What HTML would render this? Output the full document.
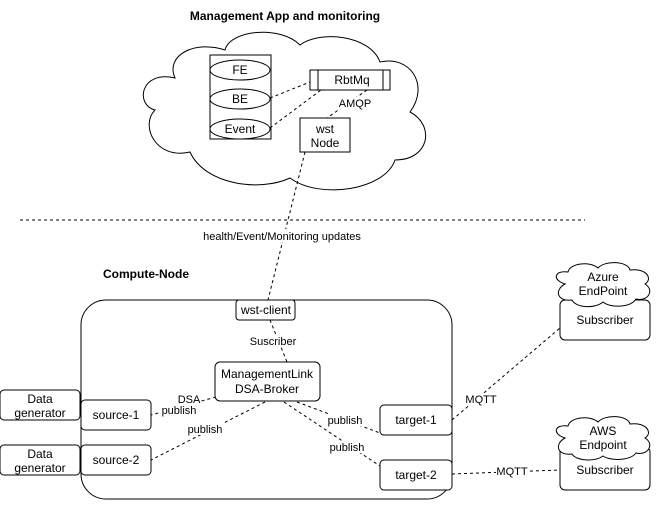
<!DOCTYPE html>
<html><head><meta charset="utf-8"><style>
html,body{margin:0;padding:0;background:#fff;}
svg text{font-family:"Liberation Sans",Arial,sans-serif;font-size:12px;fill:#000;}
</style></head><body>
<svg width="661" height="501" viewBox="0 0 661 501" xmlns="http://www.w3.org/2000/svg">
<g fill="none" stroke="#000" stroke-width="1">
<path d="M175,78 C140,70 135,105 155,110 C140,125 155,160 190,152 C205,185 260,192 290,178 C320,200 385,190 395,160 C430,160 435,125 410,112 C430,85 410,55 380,62 C370,35 320,30 300,45 C280,25 230,30 225,50 C195,40 165,55 175,78 Z" fill="#fff"/>
<rect x="210" y="55" width="61" height="84" fill="#fff"/>
<ellipse cx="240" cy="70" rx="30" ry="10" fill="#fff"/>
<ellipse cx="240" cy="99" rx="30" ry="10" fill="#fff"/>
<ellipse cx="240" cy="129" rx="30" ry="10" fill="#fff"/>
<rect x="310" y="70" width="80" height="20" fill="#fff"/>
<line x1="318" y1="70" x2="318" y2="90"/><line x1="383" y1="70" x2="383" y2="90"/>
<rect x="300" y="118" width="50" height="34" fill="#fff"/>
<g stroke-dasharray="3,3">
<line x1="270" y1="98" x2="310" y2="82"/>
<line x1="270" y1="128" x2="321" y2="90"/>
<line x1="367" y1="90" x2="327" y2="118"/>
<line x1="305" y1="152" x2="268" y2="300"/>
<line x1="20" y1="220" x2="585" y2="220"/>
</g>
<rect x="81" y="300" width="371" height="199" rx="25" fill="#fff"/>
<g stroke-dasharray="3,3">
<line x1="270" y1="320" x2="287" y2="362"/>
<line x1="216" y1="397" x2="151" y2="415"/>
<line x1="265" y1="402" x2="151" y2="460"/>
<line x1="297" y1="402" x2="380" y2="433"/>
<line x1="284" y1="402" x2="380" y2="466"/>
<line x1="452" y1="420" x2="560" y2="328"/>
<line x1="452" y1="474" x2="560" y2="470"/>
</g>
<rect x="236" y="300" width="59" height="20" rx="3" fill="#fff"/>
<rect x="215" y="362" width="105" height="39" rx="5" fill="#fff"/>
<rect x="0" y="390" width="80" height="30" rx="4" fill="#fff"/>
<rect x="0" y="445" width="80" height="30" rx="4" fill="#fff"/>
<rect x="81" y="400" width="70" height="30" rx="4" fill="#fff"/>
<rect x="81" y="445" width="70" height="30" rx="4" fill="#fff"/>
<rect x="380" y="405" width="72" height="30" rx="4" fill="#fff"/>
<rect x="380" y="460" width="72" height="30" rx="4" fill="#fff"/>
<rect x="560" y="300" width="90" height="40" rx="5" fill="#fff"/>
<rect x="560" y="447" width="90" height="43" rx="5" fill="#fff"/>
<path d="M565,284 C552,280 554,270 568,272 C570,263 590,261 598,268 C605,260 628,261 630,270 C647,268 653,279 645,284 C655,290 648,302 636,299 C630,308 610,308 603,302 C595,309 576,308 572,300 C557,302 554,290 565,284 Z" fill="#fff"/>
<path d="M565,438 C552,434 554,424 568,426 C570,417 590,415 598,422 C605,414 628,415 630,424 C647,422 653,433 645,438 C655,444 648,456 636,453 C630,461 610,461 603,456 C595,462 576,461 572,454 C557,456 554,444 565,438 Z" fill="#fff"/>
</g>
<text x="285" y="20" text-anchor="middle" font-weight="bold" style="font-size:12px">Management App and monitoring</text>
<text x="103" y="278" font-weight="bold">Compute-Node</text>
<text x="240" y="74" text-anchor="middle">FE</text>
<text x="240" y="103" text-anchor="middle">BE</text>
<text x="240" y="133" text-anchor="middle">Event</text>
<text x="352" y="84" text-anchor="middle">RbtMq</text>
<rect x="335" y="97" width="38" height="12" fill="#fff"/>
<text x="355" y="107" text-anchor="middle" style="font-size:11px">AMQP</text>
<text x="325" y="133" text-anchor="middle">wst</text>
<text x="325" y="147" text-anchor="middle">Node</text>
<rect x="200" y="229" width="165" height="13" fill="#fff"/>
<text x="282" y="240" text-anchor="middle" style="font-size:11px">health/Event/Monitoring updates</text>
<text x="266" y="314" text-anchor="middle">wst-client</text>
<rect x="248" y="335" width="50" height="12" fill="#fff"/>
<text x="273" y="345" text-anchor="middle" style="font-size:11px">Suscriber</text>
<text x="267" y="378" text-anchor="middle">ManagementLink</text>
<text x="267" y="393" text-anchor="middle">DSA-Broker</text>
<text x="40" y="403" text-anchor="middle">Data</text>
<text x="40" y="417" text-anchor="middle">generator</text>
<text x="40" y="458" text-anchor="middle">Data</text>
<text x="40" y="472" text-anchor="middle">generator</text>
<text x="116" y="419" text-anchor="middle">source-1</text>
<text x="116" y="464" text-anchor="middle">source-2</text>
<text x="416" y="424" text-anchor="middle">target-1</text>
<text x="416" y="479" text-anchor="middle">target-2</text>
<text x="605" y="324" text-anchor="middle">Subscriber</text>
<text x="605" y="474" text-anchor="middle">Subscriber</text>
<text x="603" y="281" text-anchor="middle">Azure</text>
<text x="603" y="295" text-anchor="middle">EndPoint</text>
<text x="603" y="435" text-anchor="middle">AWS</text>
<text x="603" y="449" text-anchor="middle">Endpoint</text>
<g>
<rect x="178" y="394" width="22" height="11" fill="#fff"/>
<text x="189" y="403" text-anchor="middle" style="font-size:11px">DSA</text>
<rect x="160" y="405" width="38" height="11" fill="#fff"/>
<text x="179" y="414" text-anchor="middle" style="font-size:11px">publish</text>
<rect x="186" y="423" width="38" height="12" fill="#fff"/>
<text x="205" y="433" text-anchor="middle" style="font-size:11px">publish</text>
<rect x="326" y="414" width="38" height="12" fill="#fff"/>
<text x="345" y="424" text-anchor="middle" style="font-size:11px">publish</text>
<rect x="328" y="441" width="38" height="12" fill="#fff"/>
<text x="347" y="451" text-anchor="middle" style="font-size:11px">publish</text>
<rect x="465" y="393" width="32" height="12" fill="#fff"/>
<text x="481" y="403" text-anchor="middle" style="font-size:11px">MQTT</text>
<rect x="496" y="465" width="32" height="12" fill="#fff"/>
<text x="512" y="475" text-anchor="middle" style="font-size:11px">MQTT</text>
</g>
</svg>
</body></html>
